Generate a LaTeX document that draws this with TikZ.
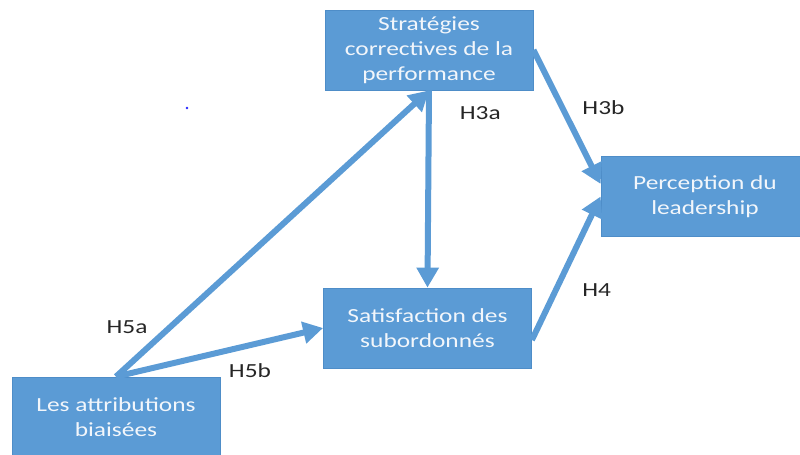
\documentclass[tikz,border=0pt]{standalone}
\usepackage{fontspec}
\setmainfont{Carlito}[FakeStretch=1.27]
\usetikzlibrary{arrows.meta, positioning}
\definecolor{boxblue}{HTML}{5B9BD5}
\definecolor{boxedge}{HTML}{4E8DC8}
\definecolor{txtwhite}{HTML}{F2F6FB}

\begin{document}
\begin{tikzpicture}[x=0.75pt, y=-0.75pt, >={Triangle[length=15pt, width=16pt]},
	var/.style={rectangle, fill=boxblue, draw=boxedge, line width=0.6pt, minimum width=156pt, minimum height=60pt, align=center, text=txtwhite, font=\fontsize{15}{18.75}\selectfont},
	hyp/.style={->, draw=boxblue, line width=4.5pt},
	lab/.style={font=\fontsize{15}{18}\selectfont, text=black!85, inner sep=0pt}]

		\useasboundingbox (0,0) rectangle (800,454);

		\node[var] (strat) at (429,50) {Stratégies\\correctives de la\\performance};
		\node[var] (perc) at (705,196.5) {Perception du\\leadership};
		\node[var] (sat) at (427.5,328) {Satisfaction des\\subordonnés};
		\node[var] (attr) at (116,417) {Les attributions\\biaisées};

		\path
		(attr.north) edge[hyp] node[lab, pos=0.174, left=15pt] {H5a} (strat.south)
				edge[hyp] node[lab, pos=0.647, below=11.8pt] {H5b} (sat.west)
		(strat.south) edge[hyp] node[lab, pos=0.116, right=21pt] {H3a} (sat.north)
		(strat.east) edge[hyp] node[lab, pos=0.433, right=12.7pt] {H3b} ([yshift=9.4pt]perc.west)
		([yshift=-9pt]sat.east) edge[hyp] node[lab, pos=0.348, right=17.7pt] {H4} (perc.west);

		\fill[blue!85] (187,108) circle (1.1pt);

		\end{tikzpicture}
\end{document}
